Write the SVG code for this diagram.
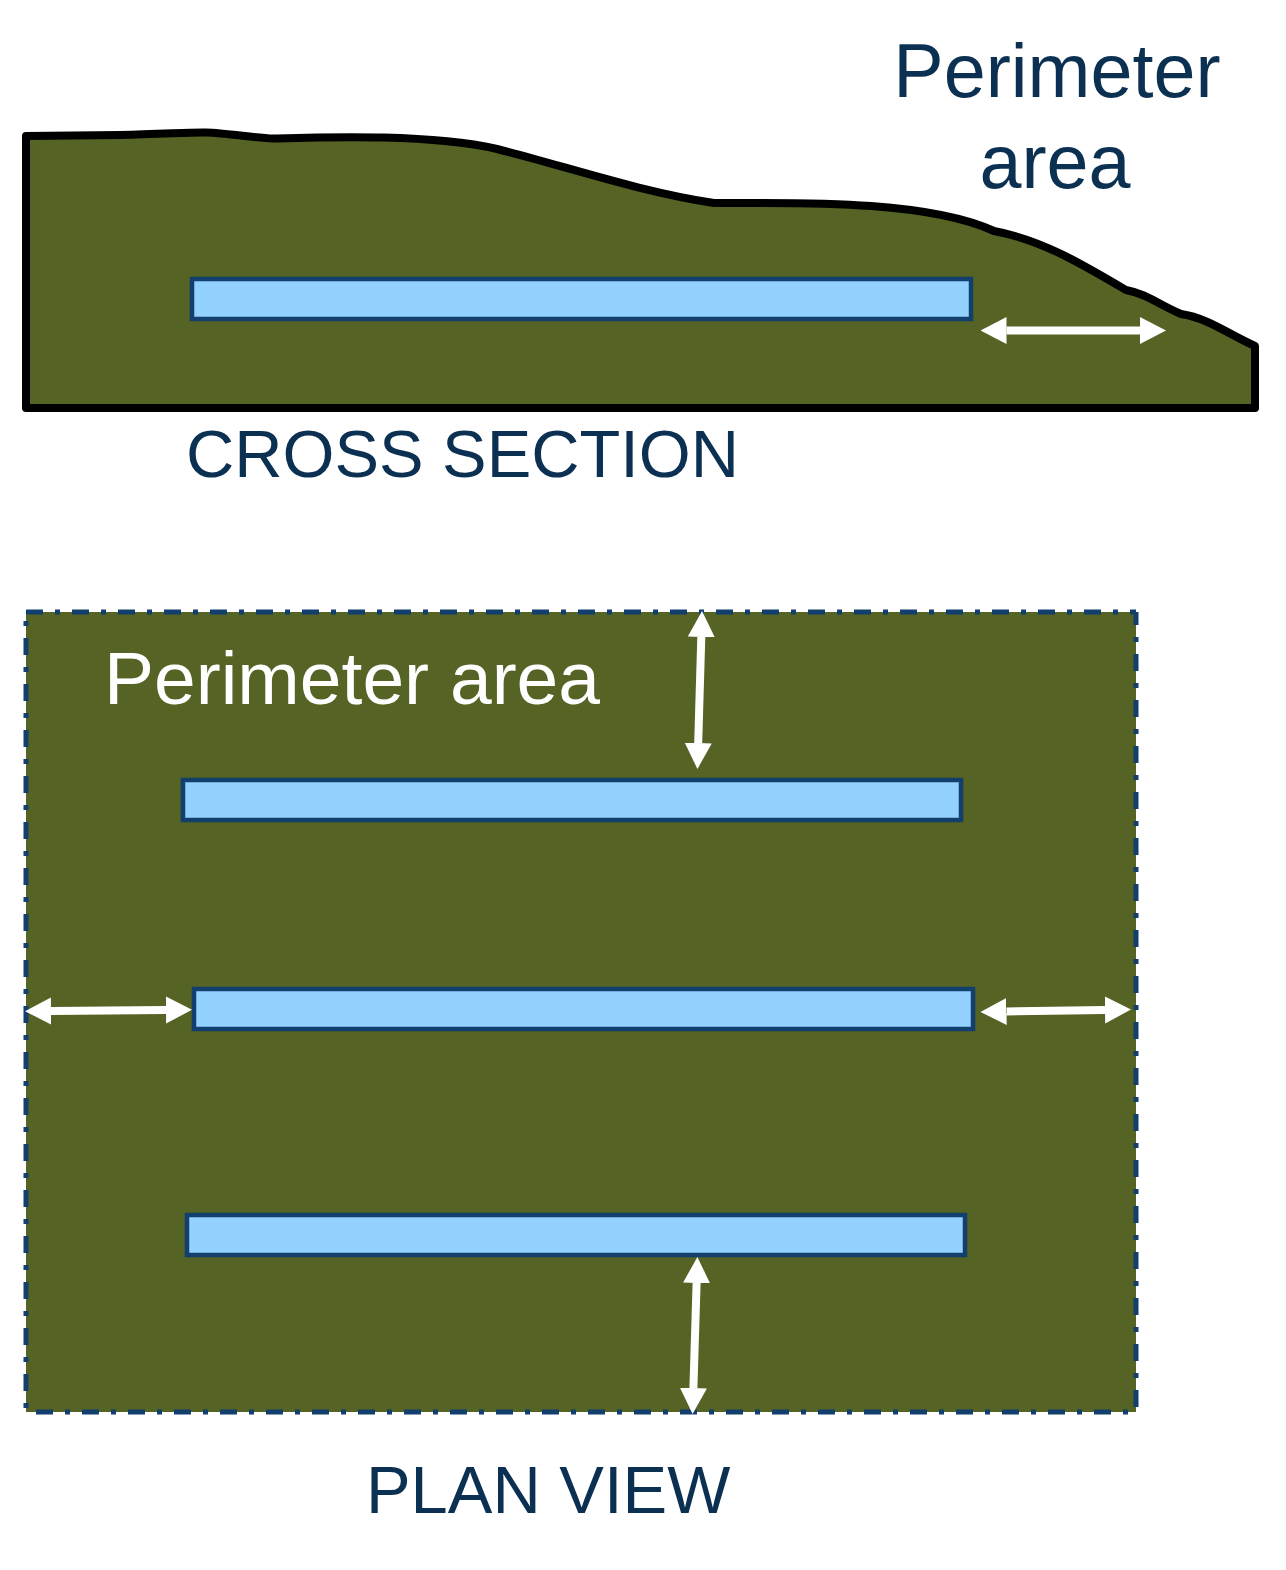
<svg xmlns="http://www.w3.org/2000/svg" width="1286" height="1570" viewBox="0 0 1286 1570">
<style>
text{font-family:"Liberation Sans",Arial,sans-serif}
.navy{fill:#0b3052}
.well{fill:#93d2ff;stroke:#123f6d;stroke-width:4.500}
.ground{fill:#556324}
.edge{fill:none;stroke:#123f6d;stroke-width:5;stroke-dasharray:17 12 5 12}
.arr{fill:none;stroke:#fff;stroke-width:8;marker-start:url(#a);marker-end:url(#a)}
</style>
<defs><marker id="a" markerUnits="userSpaceOnUse" markerWidth="26" markerHeight="28" refX="0" refY="14" orient="auto-start-reverse"><path d="M0 0.500L26 14L0 27.500Z" fill="#fff"/></marker></defs>
<rect width="1286" height="1570" fill="#fff"/>
<g id="cross-section">
<path class="ground" stroke="#000" stroke-width="8" stroke-linejoin="round" d="M26 136L120 135C160 134.500 190 132 206 132.500C226 133 256 138 273 138.500C330 137 430 134 497 149C565 166 640 192 714 203C790 203 925 199 994 231C1042 240 1082 264 1126 290C1147 294 1158 304 1181 314C1208 318 1228 334 1255 346V408H26Z"/>
<rect class="well" x="192" y="279" width="779" height="40"/>
<path class="arr" d="M1006.500 330.500H1140"/>
</g>
<g id="plan-view">
<rect class="ground" x="26" y="612" width="1110" height="800"/>
<path class="edge" d="M26 612H1136"/>
<path class="edge" style="stroke-dashoffset:-42" d="M1136 612V1412"/>
<path class="edge" style="stroke-dashoffset:-10" d="M26 1412H1136"/>
<path class="edge" style="stroke-dashoffset:-26" d="M26 612V1412"/>
<rect class="well" x="183" y="780" width="778" height="40"/>
<rect class="well" x="194" y="989" width="779" height="40"/>
<rect class="well" x="187" y="1215" width="778" height="40"/>
</g>
<g id="connectors">
<path class="arr" d="M701.300 637L698.200 743"/>
<path class="arr" d="M51 1011L166 1010"/>
<path class="arr" d="M1006.500 1011.500L1105 1010"/>
<path class="arr" d="M696.600 1283L693.400 1388"/>
</g>
<g id="labels">
<text class="navy" x="1057" y="97" font-size="75.500" text-anchor="middle">Perimeter</text>
<text class="navy" x="1055" y="188" font-size="75.500" text-anchor="middle">area</text>
<text class="navy" x="186" y="477" font-size="66.800">CROSS SECTION</text>
<text x="104" y="704" font-size="75" fill="#fff">Perimeter area</text>
<text class="navy" x="366" y="1513" font-size="66.900">PLAN VIEW</text>
</g>
</svg>
